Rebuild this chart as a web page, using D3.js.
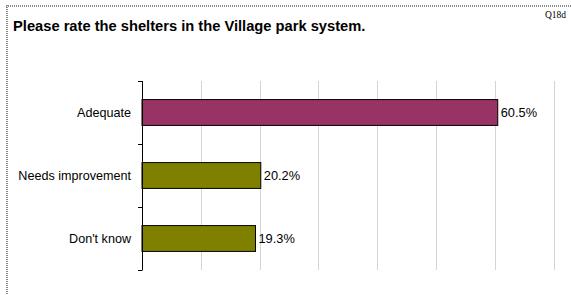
<!DOCTYPE html>
<html>
<head>
<meta charset="utf-8">
<script src="https://cdn.jsdelivr.net/npm/d3@7"></script>
<style>
  body { margin: 0; background: #fff; }
  text { font-family: Arial, "Liberation Sans", sans-serif; }
</style>
</head>
<body>
<div id="chart"></div>
<script>
var categories = ["Adequate", "Needs improvement", "Don't know"];
var values = [60.5, 20.2, 19.3];
var barColors = ["#993366", "#808000", "#808000"];
var gridTicks = [10, 20, 30, 40, 50, 60, 70];

var svg = d3.select("#chart").append("svg")
    .attr("width", 571)
    .attr("height", 295);

// hatched frame (top and left only are visible)
svg.append("line")
    .attr("x1", 6).attr("x2", 571).attr("y1", 6).attr("y2", 6)
    .attr("stroke", "#8a8a8a").attr("stroke-width", 2).attr("stroke-dasharray", "1,1");
svg.append("line")
    .attr("x1", 7).attr("x2", 7).attr("y1", 5).attr("y2", 295)
    .attr("stroke", "#8a8a8a").attr("stroke-width", 2).attr("stroke-dasharray", "1,1");

svg.append("text")
    .attr("x", 13).attr("y", 31)
    .style("font-size", "14.7px").style("font-weight", "bold")
    .text("Please rate the shelters in the Village park system.");

svg.append("text")
    .attr("x", 566).attr("y", 18)
    .attr("text-anchor", "end")
    .style("font-family", "'Liberation Serif', 'Times New Roman', serif")
    .style("font-size", "9.5px")
    .text("Q18d");

var margin = {left: 142, top: 81},
    width = 411.6,
    height = 189;

var g = svg.append("g").attr("transform", "translate(" + margin.left + "," + margin.top + ")");

var x = d3.scaleLinear().domain([0, 70]).range([0, width]);
var y = d3.scaleBand().domain(categories).range([0, height]).paddingInner(0.59).paddingOuter(0.295);
var yb = d3.scaleBand().domain(categories).range([0, height]);

g.selectAll(".grid")
    .data(gridTicks)
  .enter().append("line")
    .attr("class", "grid")
    .attr("x1", function(d) { return Math.round(x(d)) + 0.5; })
    .attr("x2", function(d) { return Math.round(x(d)) + 0.5; })
    .attr("y1", 0).attr("y2", height)
    .attr("stroke", "#d4d4d4").attr("stroke-width", 1);

g.selectAll(".bar")
    .data(values)
  .enter().append("rect")
    .attr("class", "bar")
    .attr("x", 0)
    .attr("y", function(d, i) { return y(categories[i]); })
    .attr("width", function(d) { return x(d); })
    .attr("height", y.bandwidth())
    .attr("fill", function(d, i) { return barColors[i]; })
    .attr("stroke", "#000").attr("stroke-width", 1);

g.selectAll(".val")
    .data(values)
  .enter().append("text")
    .attr("class", "val")
    .attr("x", function(d) { return x(d) + 3; })
    .attr("y", function(d, i) { return y(categories[i]) + y.bandwidth() / 2; })
    .attr("dy", "0.35em")
    .style("font-size", "12.8px")
    .text(function(d) { return d.toFixed(1) + "%"; });

// category axis with ticks at band boundaries
var axis = g.append("g");
axis.append("line")
    .attr("x1", 0.5).attr("x2", 0.5).attr("y1", 0).attr("y2", height)
    .attr("stroke", "#000");
var bounds = categories.map(function(c) { return yb(c); }).concat([height]);
axis.selectAll(".tick")
    .data(bounds)
  .enter().append("line")
    .attr("x1", -4).attr("x2", 0.5)
    .attr("y1", function(d) { return Math.round(d) + 0.5; })
    .attr("y2", function(d) { return Math.round(d) + 0.5; })
    .attr("stroke", "#000");
axis.selectAll(".lab")
    .data(categories)
  .enter().append("text")
    .attr("x", -11)
    .attr("y", function(d) { return yb(d) + yb.bandwidth() / 2; })
    .attr("dy", "0.35em")
    .attr("text-anchor", "end")
    .style("font-size", "12.6px")
    .text(function(d) { return d; });
</script>
</body>
</html>
